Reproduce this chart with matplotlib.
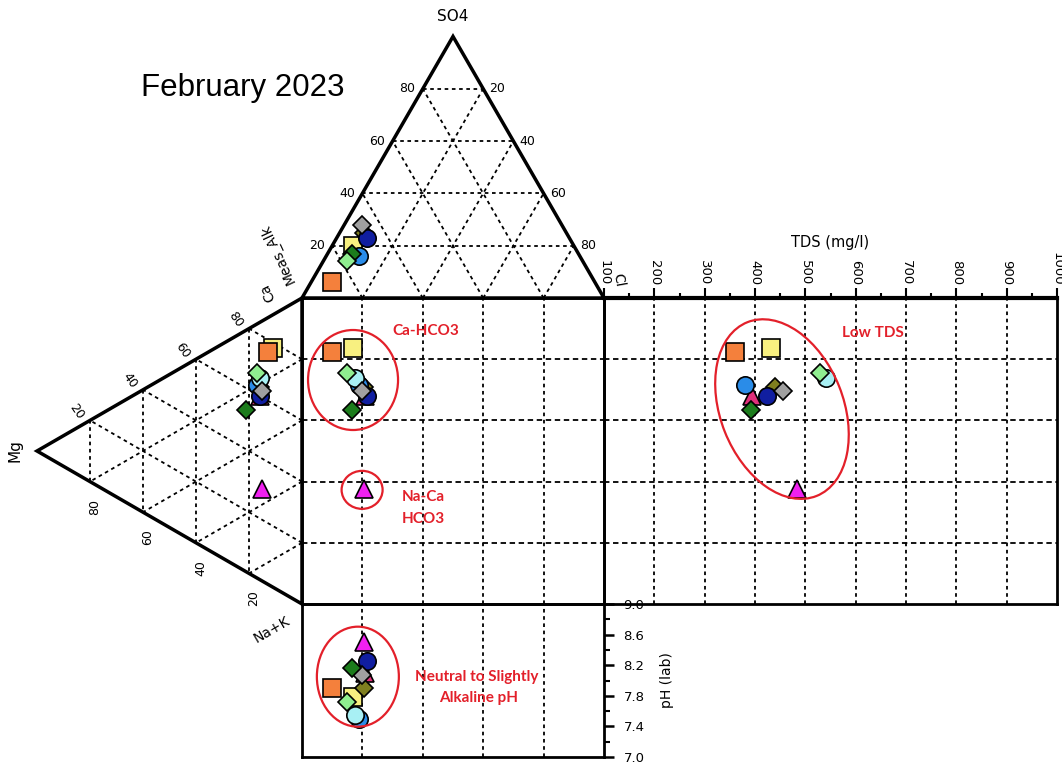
import numpy as np
import matplotlib
matplotlib.use("Agg")
import matplotlib.pyplot as plt
from matplotlib.patches import Ellipse, Polygon
from matplotlib.transforms import ScaledTranslation
from matplotlib.ticker import MultipleLocator

# ---------------- data (percent of meq, TDS mg/l, pH) ----------------
colors  = ['#E0307A', '#F8F080', '#7F7F1F', '#2A8CE8', '#A8F0F4', '#F4803C',
           '#101EA0', '#A0A0A0', '#1C7C1C', '#90EE90', '#F020F0']
markers = ['^', 's', 'D', 'o', 'o', 's', 'o', 'D', 'D', 'D', '^']
ca   = [60, 78, 63, 63, 66, 76, 60, 62, 53, 67, 30]
mg   = [16, 11, 16, 17, 16, 13, 16, 15, 21, 17, 15]
nak  = [24, 11, 21, 20, 18, 11, 24, 23, 26, 16, 55]
hco3 = [67, 73, 67, 73, 74, 87, 67, 66, 75, 78, 67]
so4  = [24, 20, 25, 16, 17,  6, 23, 28, 17, 14, 25]
cl   = [ 9,  7,  8, 11,  9,  7, 10,  6,  8,  8,  8]
tds  = [394, 432, 440, 380, 541, 360, 424, 456, 392, 529, 483]
ph   = [8.10, 7.78, 7.90, 7.50, 7.55, 7.90, 8.25, 8.07, 8.16, 7.72, 8.50]

tri_ticks = [20, 40, 60, 80]
tds_ticks = list(range(100, 1001, 100))
ph_ticks = [7.0, 7.4, 7.8, 8.2, 8.6, 9.0]

title = "February 2023"
red = '#E3202A'

# ---------------- layout ----------------
W, HP = 1062, 768
fig = plt.figure(figsize=(W / 100, HP / 100), dpi=100)
h = np.sqrt(3) / 2


def add_ax(x0, y0, x1, y1):
    a = fig.add_axes([x0 / W, 1 - y1 / HP, (x1 - x0) / W, (y1 - y0) / HP])
    a.patch.set_alpha(0)
    return a


L, T, R, B = 302, 298, 604, 604
TR, PB = 1057, 757
tri_w = R - L          # px per unit in top triangle
sq_h = B - T           # px per unit in left triangle

axT = add_ax(L, T - h * tri_w, R, T)
axT.set_xlim(0, 1); axT.set_ylim(0, h); axT.axis('off')
axL = add_ax(L - h * sq_h, T, L, B)
axL.set_xlim(-h, 0); axL.set_ylim(1, 0); axL.axis('off')
axS = add_ax(L, T, R, B)
axS.set_xlim(0, 100); axS.set_ylim(100, 0)
axD = add_ax(R, T, TR, B)
axD.set_xlim(100, 1000); axD.set_ylim(100, 0)
axP = add_ax(L, B, R, PB)
axP.set_xlim(0, 100); axP.set_ylim(7, 9)

grid_kw = dict(color='black', lw=1.3, ls=(0, (2, 2)))
hgrid_kw = dict(color='black', lw=1.3, ls=(0, (3, 2)))
num_font = dict(fontsize=9, family='DejaVu Sans')

# ---- top (anion) triangle ----
axT.add_patch(Polygon([(0, 0), (1, 0), (0.5, h)], closed=True, fill=False,
                      ec='black', lw=2.5, clip_on=False, joinstyle='miter'))
for t in tri_ticks:
    k = t / 100
    axT.plot([k / 2, 1 - k / 2], [k * h, k * h], **grid_kw)           # SO4
    axT.plot([k, k + (1 - k) / 2], [0, (1 - k) * h], **grid_kw)      # Cl
    axT.plot([1 - k, (1 - k) / 2], [0, (1 - k) * h], **grid_kw)      # HCO3
    axT.text(k / 2 - 0.025, k * h, f"{t}", ha='right', va='center', **num_font)
    axT.text(1 - k / 2 + 0.02, k * h, f"{100 - t}", ha='left', va='center', **num_font)
axT.text(0.5, h + 20 / tri_w, "SO4", ha='center', va='center', fontsize=11)
axT.text(1 + 14 / tri_w, 18 / tri_w, "Cl", ha='center', va='center', fontsize=10, rotation=-80)

# ---- left (cation) triangle ----
axL.add_patch(Polygon([(0, 0), (0, 1), (-h, 0.5)], closed=True, fill=False,
                      ec='black', lw=2.5, clip_on=False, joinstyle='miter'))
for t in tri_ticks:
    k = t / 100
    axL.plot([-k * h, -k * h], [k / 2, 1 - k / 2], **grid_kw)                 # Mg
    axL.plot([0, -(1 - k) * h], [k, k + (1 - k) / 2], **grid_kw)              # Na+K
    axL.plot([0, -(1 - k) * h], [1 - k, (1 - k) / 2], **grid_kw)              # Ca
    axL.text(-k * h - 13 / sq_h, k / 2 - 9 / sq_h, f"{100 - t}", ha='center', va='center',
             rotation=-55, **num_font)
    axL.text(-k * h + 5 / sq_h, 1 - k / 2 + 25 / sq_h, f"{t}", ha='center', va='center',
             rotation=90, **num_font)
axL.text(-h - 22 / sq_h, 0.5, "Mg", ha='center', va='center', fontsize=11, rotation=90)
axL.text(-30 / sq_h, 1 + 26 / sq_h, "Na+K", ha='center', va='center', fontsize=10, rotation=30)
axL.text(-34 / sq_h, -6 / sq_h, "Ca", ha='center', va='center', fontsize=10, rotation=115)
axL.text(-24 / sq_h, -44 / sq_h, "Meas_Alk", ha='center', va='center', fontsize=10, rotation=115)

# ---- central square ----
for t in tri_ticks:
    axS.axvline(t, **grid_kw)
    axS.axhline(t, **hgrid_kw)
axS.set_xticks([]); axS.set_yticks([])
for s in axS.spines.values():
    s.set_linewidth(2)

# ---- TDS panel ----
for t in tds_ticks[1:-1]:
    axD.axvline(t, **grid_kw)
for t in tri_ticks:
    axD.axhline(t, **hgrid_kw)
axD.set_yticks([])
axD.xaxis.tick_top()
axD.set_xticks(tds_ticks)
axD.set_xticklabels([str(v) for v in tds_ticks], rotation=-90, fontsize=9.5)
axD.xaxis.set_minor_locator(MultipleLocator(50))
axD.tick_params(axis='x', which='major', direction='out', length=7, width=1.5, pad=2)
axD.tick_params(axis='x', which='minor', direction='out', length=3.5, width=1.5)
for s in axD.spines.values():
    s.set_linewidth(2)
axD.spines['top'].set_linewidth(3)
axD.text(0.5, 1 + 56 / sq_h, "TDS (mg/l)", transform=axD.transAxes, ha='center',
         va='center', fontsize=10.5)

# ---- pH panel ----
for t in tri_ticks:
    axP.axvline(t, **grid_kw)
axP.set_xticks([])
axP.yaxis.tick_right()
axP.set_yticks(ph_ticks)
axP.set_yticklabels([f"{v:.1f}" for v in ph_ticks], fontsize=9.5)
axP.yaxis.set_minor_locator(MultipleLocator(0.2))
axP.tick_params(axis='y', which='major', direction='out', length=7, width=1.8, pad=7)
axP.tick_params(axis='y', which='minor', direction='out', length=4, width=1.5)
for s in axP.spines.values():
    s.set_linewidth(2)
axP.text(1 + 63 / tri_w, 0.5, "pH (lab)", transform=axP.transAxes, rotation=90,
         ha='center', va='center', fontsize=10)

# ---------------- points ----------------
n = len(ca)
under_in_anion = {4, n - 1}   # samples hidden beneath the cluster in the anion triangle
for i in range(n):
    ms = 9 if markers[i] == 'D' else 12.5
    kw = dict(marker=markers[i], ms=ms, mfc=colors[i], mec='black', mew=1.2,
              ls='none', clip_on=False)
    xa = cl[i] / 100 + so4[i] / 200          # anion triangle x
    ya = so4[i] / 100 * h                    # anion triangle y
    yc = nak[i] / 100 + mg[i] / 200          # cation triangle (and square) y
    xc = -mg[i] / 100 * h
    z = 5 + i
    zt = 4 if i in under_in_anion else z
    axT.plot([xa], [ya], zorder=zt, **kw)
    axL.plot([xc], [yc], zorder=z, **kw)
    axS.plot([xa * 100], [yc * 100], zorder=z, **kw)
    axD.plot([tds[i]], [yc * 100], zorder=z, **kw)
    axP.plot([xa * 100], [ph[i]], zorder=z, **kw)

# ---------------- annotations ----------------
def px_ellipse(ax, cx, cy, w_px, h_px, angle=0):
    tr = fig.dpi_scale_trans + ScaledTranslation(cx, cy, ax.transData)
    ax.add_patch(Ellipse((0, 0), w_px / 100, h_px / 100, angle=angle, transform=tr,
                         fill=False, ec=red, lw=1.6, clip_on=False, zorder=20))

px_ellipse(axS, 16.9, 26.8, 90, 100)
px_ellipse(axS, 19.9, 62.7, 41, 38)
px_ellipse(axD, 453.6, 36.3, 123, 187, angle=21.7)
px_ellipse(axP, 18.5, 8.05, 82, 100)

rkw = dict(color=red, fontsize=11, fontweight='bold', family='Lato', va='center')
axS.text(29.8, 10.8, "Ca-HCO3", ha='left', **rkw)
axS.text(33.1, 65.0, "Na-Ca", ha='left', **rkw)
axS.text(33.1, 72.2, "HCO3", ha='left', **rkw)
axD.text(573, 11.4, "Low TDS", ha='left', **rkw)
axP.text(57.8, 8.05, "Neutral to Slightly", ha='center', **rkw)
axP.text(58.6, 7.77, "Alkaline pH", ha='center', **rkw)

fig.text(243 / W, 1 - 88 / HP, title, ha='center', va='center', fontsize=22.5,
         family='Liberation Sans')

fig.savefig("out.png", dpi=100)
